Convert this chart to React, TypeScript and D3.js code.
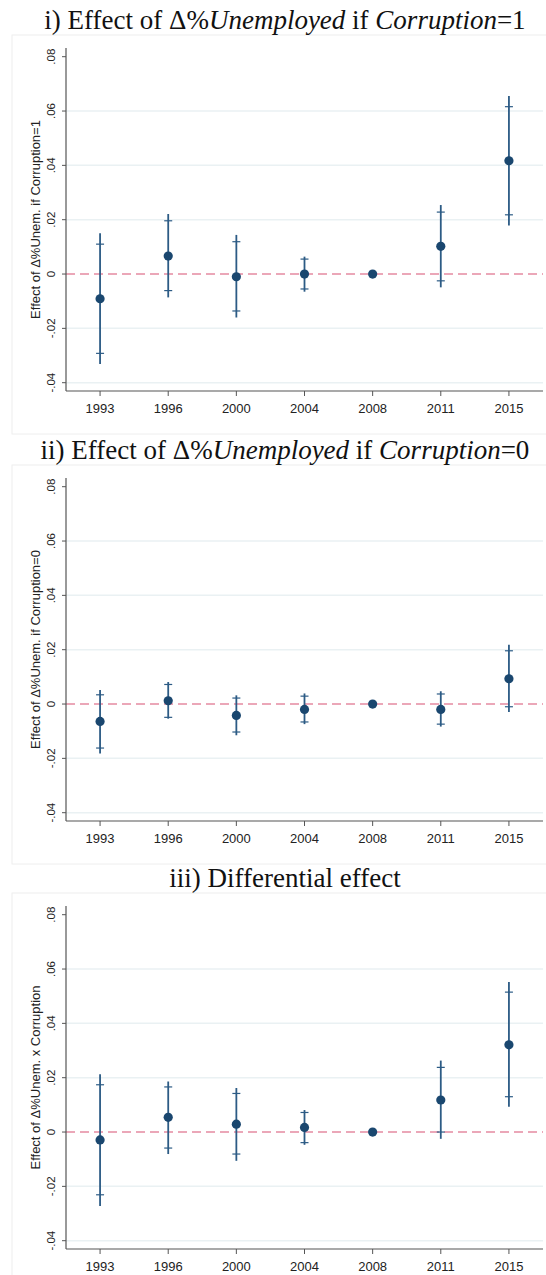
import React from 'react';
import * as d3 from 'd3';

const years = ['1993', '1996', '2000', '2004', '2008', '2011', '2015'];
const yTicks = [-0.04, -0.02, 0, 0.02, 0.04, 0.06, 0.08];
const yTickLabels = ['-.04', '-.02', '0', '.02', '.04', '.06', '.08'];
const gridTicks = [-0.04, -0.02, 0.02, 0.04, 0.06];

// Panel i) Corruption = 1
const est1 = [-0.0091, 0.0066, -0.001, 0.0, 0.0, 0.0102, 0.0417];
const capLo1 = [-0.0292, -0.0061, -0.0136, -0.0055, null, -0.0025, 0.0218];
const capHi1 = [0.011, 0.0196, 0.0119, 0.0055, null, 0.0228, 0.0616];
const lineLo1 = [-0.0331, -0.0086, -0.016, -0.0065, null, -0.0049, 0.0179];
const lineHi1 = [0.015, 0.0221, 0.0144, 0.0064, null, 0.0254, 0.0655];

// Panel ii) Corruption = 0
const est2 = [-0.0064, 0.0012, -0.0042, -0.002, 0.0, -0.002, 0.0093];
const capLo2 = [-0.0162, -0.0049, -0.0103, -0.0066, null, -0.0074, -0.001];
const capHi2 = [0.0034, 0.0072, 0.0022, 0.0029, null, 0.0037, 0.0196];
const lineLo2 = [-0.0182, -0.0054, -0.0115, -0.0074, null, -0.0083, -0.0029];
const lineHi2 = [0.0052, 0.0081, 0.0032, 0.0039, null, 0.0047, 0.0218];

// Panel iii) Differential effect
const est3 = [-0.0029, 0.0054, 0.0029, 0.0017, 0.0, 0.0118, 0.0321];
const capLo3 = [-0.0231, -0.0059, -0.0081, -0.0039, null, 0.0, 0.013];
const capHi3 = [0.0174, 0.0166, 0.0142, 0.0072, null, 0.0238, 0.0515];
const lineLo3 = [-0.0272, -0.0081, -0.0106, -0.0047, null, -0.0025, 0.0093];
const lineHi3 = [0.0213, 0.0186, 0.0162, 0.0081, null, 0.0263, 0.0552];

const W = 546;
const H = 1275;
const NAVY = '#1a476f';
const LINE = '#2c5b85';
const AXIS = '#555555';
const GRID = '#eaf1f3';
const REF = '#e58aa1';
const SANS = '"Liberation Sans", Arial, sans-serif';
const SERIF = '"Liberation Serif", "Times New Roman", serif';

type PanelProps = {
  offset: number;
  title: React.ReactNode;
  yTitle: string;
  est: number[];
  capLo: (number | null)[];
  capHi: (number | null)[];
  lineLo: (number | null)[];
  lineHi: (number | null)[];
};

const PLOT_LEFT = 66;
const PLOT_RIGHT = 543;
const PLOT_TOP = 48;
const PLOT_BOTTOM = 391;

function Panel({ offset, title, yTitle, est, capLo, capHi, lineLo, lineHi }: PanelProps) {
  const x = d3.scaleLinear().domain([0.5, years.length + 0.5]).range([PLOT_LEFT, PLOT_RIGHT]);
  const y = d3.scaleLinear().domain([-0.04, 0.08]).range([382.7 + offset, 56.7 + offset]);
  const top = PLOT_TOP + offset;
  const bottom = PLOT_BOTTOM + offset;
  return (
    <g>
      <rect x={12} y={35 + offset} width={W} height={399} fill="none" stroke="#eeeeee" strokeWidth={1} />
      <text x={285} y={29 + offset} fontFamily={SERIF} fontSize={27} textAnchor="middle" fill="#111">
        {title}
      </text>
      {gridTicks.map((t) => (
        <line key={'g' + t} x1={PLOT_LEFT} x2={PLOT_RIGHT} y1={y(t)} y2={y(t)} stroke={GRID} strokeWidth={1.5} />
      ))}
      <line x1={PLOT_LEFT} x2={PLOT_RIGHT} y1={y(0)} y2={y(0)} stroke={REF} strokeWidth={1.5} strokeDasharray="9,5" />
      {/* y axis */}
      <line x1={PLOT_LEFT} x2={PLOT_LEFT} y1={top} y2={bottom} stroke={AXIS} strokeWidth={1.2} />
      {yTicks.map((t, i) => (
        <g key={'yt' + t}>
          <line x1={PLOT_LEFT - 4} x2={PLOT_LEFT} y1={y(t)} y2={y(t)} stroke={AXIS} strokeWidth={1} />
          <text
            transform={`translate(55,${y(t)}) rotate(-90)`}
            textAnchor="middle"
            fontFamily={SANS}
            fontSize={11.5}
            fill="#222"
          >
            {yTickLabels[i]}
          </text>
        </g>
      ))}
      <text
        transform={`translate(40,${(top + bottom) / 2}) rotate(-90)`}
        textAnchor="middle"
        fontFamily={SANS}
        fontSize={13}
        fill="#222"
      >
        {yTitle}
      </text>
      {/* x axis */}
      <line x1={PLOT_LEFT} x2={PLOT_RIGHT} y1={bottom} y2={bottom} stroke={AXIS} strokeWidth={1.2} />
      {years.map((yr, i) => (
        <g key={'xt' + yr}>
          <line x1={x(i + 1)} x2={x(i + 1)} y1={bottom} y2={bottom + 5} stroke={AXIS} strokeWidth={1} />
          <text x={x(i + 1)} y={bottom + 22} textAnchor="middle" fontFamily={SANS} fontSize={13} fill="#222">
            {yr}
          </text>
        </g>
      ))}
      {/* CIs */}
      {years.map((yr, i) => {
        const lo = lineLo[i];
        const hi = lineHi[i];
        const cl = capLo[i];
        const ch = capHi[i];
        const cx = x(i + 1);
        return (
          <g key={'ci' + yr}>
            {lo !== null && hi !== null && (
              <line x1={cx} x2={cx} y1={y(lo)} y2={y(hi)} stroke={LINE} strokeWidth={1.8} />
            )}
            {cl !== null && (
              <line x1={cx - 4} x2={cx + 4} y1={y(cl)} y2={y(cl)} stroke={LINE} strokeWidth={1.2} />
            )}
            {ch !== null && (
              <line x1={cx - 4} x2={cx + 4} y1={y(ch)} y2={y(ch)} stroke={LINE} strokeWidth={1.2} />
            )}
            <circle cx={cx} cy={y(est[i])} r={4.6} fill={NAVY} />
          </g>
        );
      })}
    </g>
  );
}

export default function App() {
  return (
    <svg
      width={W}
      height={H}
      viewBox={`0 0 ${W} ${H}`}
      style={{ position: 'absolute', left: 0, top: 0, background: '#ffffff' }}
    >
      <rect x={0} y={0} width={W} height={H} fill="#ffffff" />
      <Panel
        offset={0}
        title={
          <>
            <tspan>i) Effect of Δ%</tspan>
            <tspan fontStyle="italic">Unemployed</tspan>
            <tspan> if </tspan>
            <tspan fontStyle="italic">Corruption</tspan>
            <tspan>=1</tspan>
          </>
        }
        yTitle="Effect of Δ%Unem. if Corruption=1"
        est={est1}
        capLo={capLo1}
        capHi={capHi1}
        lineLo={lineLo1}
        lineHi={lineHi1}
      />
      <Panel
        offset={430}
        title={
          <>
            <tspan>ii) Effect of Δ%</tspan>
            <tspan fontStyle="italic">Unemployed</tspan>
            <tspan> if </tspan>
            <tspan fontStyle="italic">Corruption</tspan>
            <tspan>=0</tspan>
          </>
        }
        yTitle="Effect of Δ%Unem. if Corruption=0"
        est={est2}
        capLo={capLo2}
        capHi={capHi2}
        lineLo={lineLo2}
        lineHi={lineHi2}
      />
      <Panel
        offset={858}
        title={<tspan>iii) Differential effect</tspan>}
        yTitle="Effect of Δ%Unem. x Corruption"
        est={est3}
        capLo={capLo3}
        capHi={capHi3}
        lineLo={lineLo3}
        lineHi={lineHi3}
      />
    </svg>
  );
}
